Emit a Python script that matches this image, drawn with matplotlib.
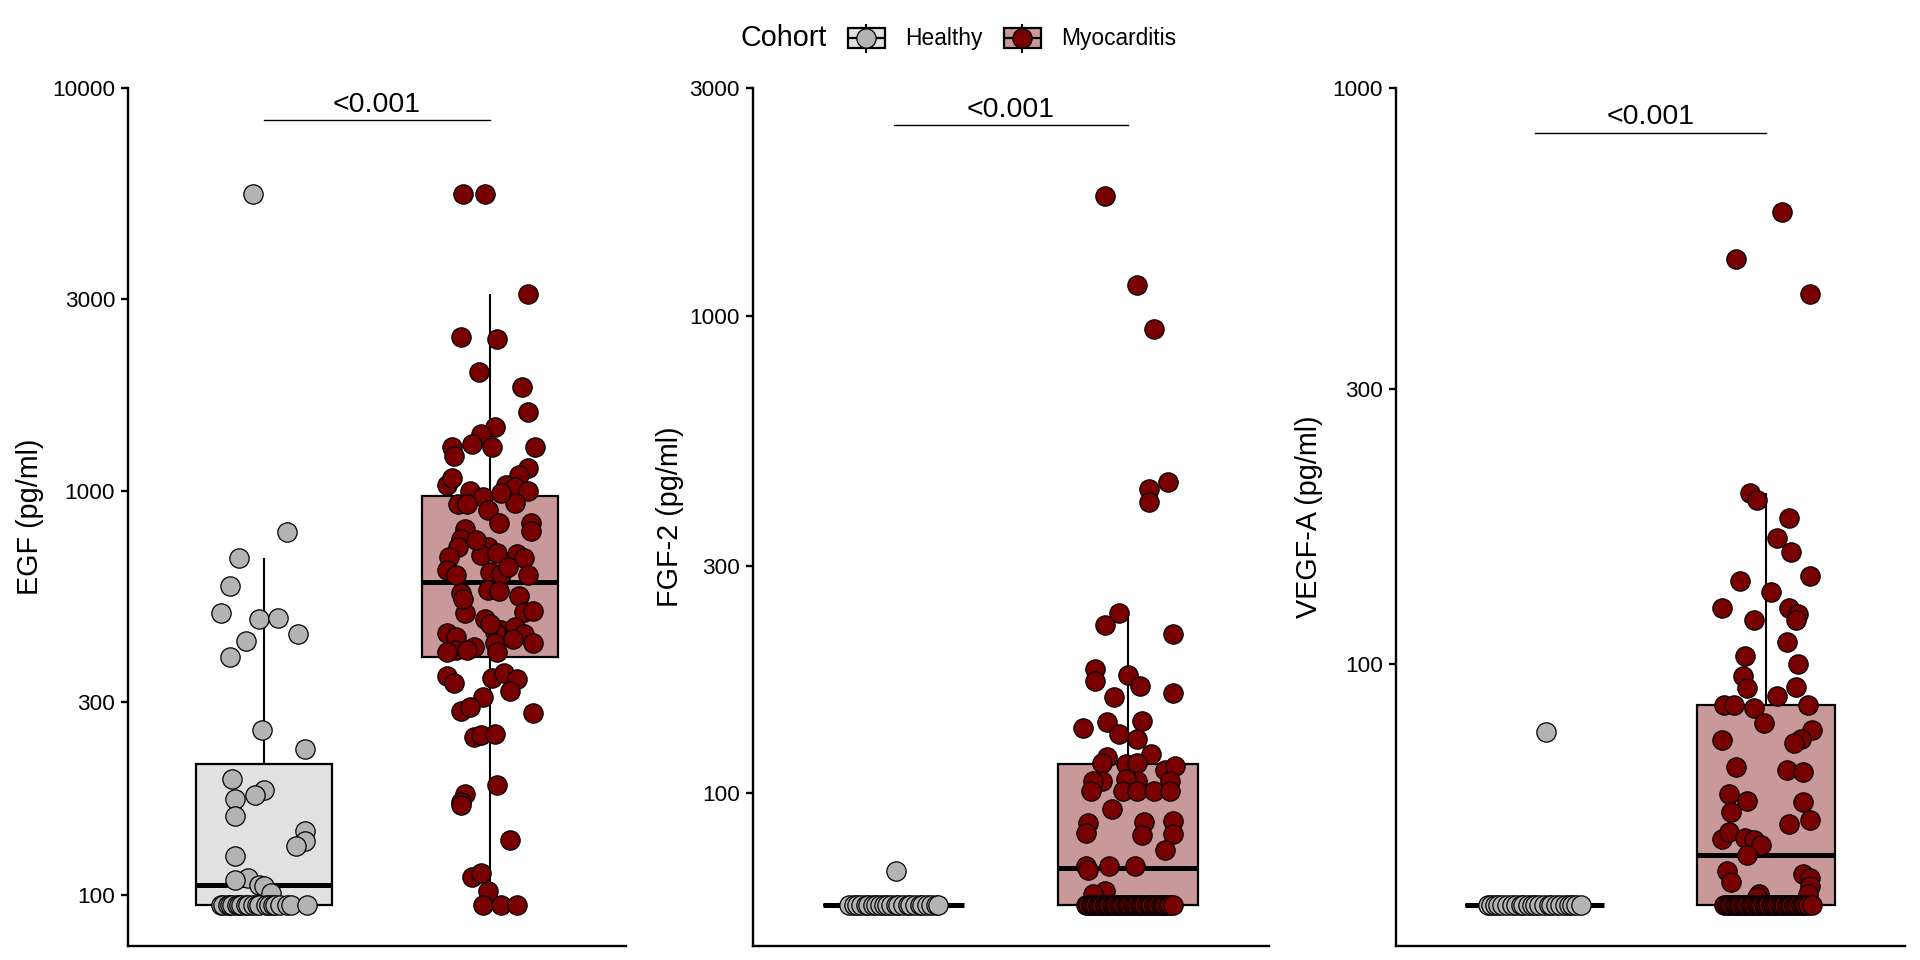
import matplotlib
matplotlib.use("Agg")
import numpy as np
import matplotlib.pyplot as plt
from matplotlib import cbook
from matplotlib.legend_handler import HandlerBase
from matplotlib.patches import Rectangle
from matplotlib.lines import Line2D
import matplotlib.ticker as mticker

plt.rcParams['font.family'] = ['Liberation Sans', 'DejaVu Sans']

# ---------------- data ----------------
cohorts = ['Healthy', 'Myocarditis']
point_colors = ['#B3B3B3', '#780000']
box_colors = ['#E1E1E1', '#C99999']
p_label = '<0.001'

# EGF
egf_lod = 94.4
egf_healthy = [5455, 795, 683, 584, 501, 484, 487, 443, 425, 389, 257, 230, 194,
               182, 177, 173, 157, 144, 136, 132, 125, 110, 109, 106, 105, 101]
egf_healthy_jit = [-0.05, 0.10, -0.11, -0.15, -0.19, -0.02, 0.06, 0.15, -0.08, -0.15,
                   -0.01, 0.18, -0.14, 0.00, -0.04, -0.13, -0.13, 0.18, 0.18, 0.14,
                   -0.13, -0.07, -0.13, -0.02, 0.00, 0.03]
egf_healthy_lod_jit = [-0.19, -0.18, -0.16, -0.15, -0.14, -0.12, -0.11, -0.10, -0.08, -0.07,
                       -0.05, -0.03, -0.02, 0.01, 0.02, 0.04, 0.05, 0.07, 0.10, 0.12, 0.19]
egf_myo = [5455, 5455, 3083, 2420, 2393, 1982, 1815, 1571, 1447, 1391, 1289, 1222, 1314,
           1286, 1286, 1143, 1100, 1039, 1077, 1039, 1023, 1000, 1004, 968, 931, 931, 901,
           936, 837, 834, 800, 806, 762, 730, 689, 728, 696, 703, 700, 683, 638, 621, 632,
           626, 621, 559, 570, 565, 551, 503, 506, 501, 484, 446, 436, 453, 449, 462, 443,
           420, 405, 412, 404, 420, 401, 400, 348, 335, 344, 354, 343, 320, 309, 285, 293,
           283, 246, 249, 250, 187, 178, 170, 167, 137, 111, 113, 102,
           990, 760, 650, 540, 470, 430]
egf_myo_jit = [-0.12, -0.02, 0.17, -0.13, 0.03, -0.05, 0.14, 0.17, 0.02, -0.04, -0.17, -0.16, -0.08,
               0.01, 0.20, 0.17, 0.13, -0.19, -0.17, 0.07, 0.11, 0.17, -0.09, -0.03, -0.14, -0.10, -0.01,
               0.11, 0.04, 0.18, 0.18, -0.11, -0.13, -0.14, -0.18, -0.01, -0.04, 0.03, 0.12, 0.15, -0.19, -0.15, 0.00,
               0.05, 0.17, -0.13, -0.01, 0.04, 0.13, 0.15, 0.19, -0.11, -0.02, -0.19, -0.15, 0.05, 0.02, 0.11, 0.15,
               0.19, -0.15, -0.07, -0.10, 0.02, 0.03, -0.19, -0.19, -0.16, 0.01, 0.06, 0.12, 0.09, -0.03, -0.13, -0.09,
               0.19, -0.07, -0.04, 0.02, 0.03, -0.11, -0.13, -0.13, 0.09, -0.08, -0.04, -0.01,
               0.05, -0.06, 0.08, -0.12, 0.00, 0.10]
egf_myo_lod_jit = [-0.03, 0.05, 0.12]

# FGF-2
fgf_lod = 58.5
fgf_healthy = [68.8]
fgf_healthy_jit = [0.01]
fgf_healthy_lod_jit = [-0.19, -0.17, -0.155, -0.14, -0.12, -0.11, -0.09, -0.075, -0.06, -0.04,
                       -0.03, -0.01, 0.01, 0.02, 0.04, 0.06, 0.07, 0.09, 0.11, 0.12, 0.14, 0.16,
                       0.18, 0.19]
fgf_myo = [1778, 1160, 937, 449, 433, 408, 239, 225, 216, 182, 172, 177, 168, 162, 159, 137,
           141, 142, 133, 130, 121, 119, 116, 115, 116, 112, 114, 106, 106, 106, 107, 106,
           101, 101, 101, 101, 101, 92.9, 86.5, 82.6, 87.1, 81.7, 87.5, 82.4, 76, 70.3, 69,
           70.3, 70.3, 62.4, 61.6]
fgf_myo_jit = [-0.10, 0.04, 0.11, 0.17, 0.09, 0.09, -0.04, -0.10, 0.19, -0.14, -0.14, 0.00, 0.05,
               0.19, -0.06, -0.19, -0.09, 0.06, -0.04, 0.04, 0.10, -0.09, -0.11, -0.01, 0.04, 0.16,
               0.20, -0.11, -0.15, 0.04, -0.01, 0.18, -0.16, -0.02, 0.04, 0.11, 0.18, -0.07, -0.17,
               -0.18, 0.07, 0.06, 0.19, 0.19, 0.16, -0.18, -0.17, -0.08, 0.03, -0.10, -0.15]
fgf_myo_lod_jit = [-0.18, -0.17, -0.16, -0.15, -0.15, -0.14, -0.13, -0.12, -0.11, -0.10,
                   -0.10, -0.09, -0.08, -0.07, -0.06, -0.05, -0.05, -0.04, -0.03, -0.02,
                   -0.01, 0.00, 0.00, 0.01, 0.02, 0.03, 0.04, 0.05, 0.05, 0.06,
                   0.07, 0.08, 0.09, 0.10, 0.10, 0.11, 0.12, 0.13, 0.14, 0.15,
                   0.15, 0.16, 0.17, 0.18, 0.19]

# VEGF-A
vegf_lod = 38.1
vegf_healthy = [76]
vegf_healthy_jit = [0.05]
vegf_healthy_lod_jit = [-0.20, -0.19, -0.17, -0.16, -0.14, -0.12, -0.10, -0.08, -0.06, -0.05,
                        -0.03, -0.01, 0.00, 0.02, 0.04, 0.06, 0.07, 0.09, 0.11, 0.13, 0.15,
                        0.16, 0.18, 0.20]
vegf_myo = [608, 504, 439, 198, 192, 179, 165, 156, 142, 139, 133, 125, 125, 122, 119, 119,
            109, 103, 100, 95.3, 90.7, 90.9, 87.7, 84.8, 84.8, 83.7, 84.8, 78.8, 73.5, 76.7,
            74, 72.9, 66.2, 65.2, 64.7, 59.3, 57.7, 55.3, 57.4, 53.5, 52.6, 49.5, 50.9, 49.7,
            49.3, 48.4, 46.5, 43.6, 41.8, 43, 42.4, 41, 39.8, 39.8, 39.3]
vegf_myo_jit = [0.07, -0.13, 0.19, -0.07, -0.04, 0.10, 0.05, 0.11, 0.19, -0.11, 0.02, -0.19, 0.10,
                0.14, 0.13, -0.05, 0.09, -0.09, 0.14, -0.10, -0.08, 0.13, 0.05, -0.18, -0.14, -0.05,
                0.18, -0.01, -0.19, 0.20, 0.15, 0.12, -0.13, 0.09, 0.16, -0.16, -0.08, -0.15, 0.16,
                0.19, 0.10, -0.19, -0.16, -0.09, -0.05, -0.02, -0.08, -0.17, -0.15, 0.16, 0.19, 0.19,
                0.18, -0.03, -0.04]
vegf_myo_lod_jit = [-0.18, -0.17, -0.16, -0.15, -0.14, -0.13, -0.12, -0.11, -0.10, -0.09,
                    -0.08, -0.07, -0.06, -0.05, -0.04, -0.03, -0.02, -0.01, 0.00, 0.01,
                    0.02, 0.03, 0.04, 0.05, 0.06, 0.07, 0.08, 0.09, 0.10, 0.11,
                    0.12, 0.13, 0.14, 0.15, 0.16, 0.17, 0.18, 0.20]

panels = [
    dict(ylabel='EGF (pg/ml)', ylim=(74.7, 10000), ticks=[100, 300, 1000, 3000, 10000],
         p_y=8309, lod=egf_lod,
         groups=[(egf_healthy, egf_healthy_jit, egf_healthy_lod_jit),
                 (egf_myo, egf_myo_jit, egf_myo_lod_jit)],
         rect=[0.06688, 0.01458, 0.25896, 0.89375], label_x=-0.198),
    dict(ylabel='FGF-2 (pg/ml)', ylim=(47.9, 3000), ticks=[100, 300, 1000, 3000],
         p_y=2510, lod=fgf_lod,
         groups=[(fgf_healthy, fgf_healthy_jit, fgf_healthy_lod_jit),
                 (fgf_myo, fgf_myo_jit, fgf_myo_lod_jit)],
         rect=[0.3923, 0.01458, 0.2684, 0.89375], label_x=-0.161),
    dict(ylabel='VEGF-A (pg/ml)', ylim=(32.3, 1000), ticks=[100, 300, 1000],
         p_y=836, lod=vegf_lod,
         groups=[(vegf_healthy, vegf_healthy_jit, vegf_healthy_lod_jit),
                 (vegf_myo, vegf_myo_jit, vegf_myo_lod_jit)],
         rect=[0.72708, 0.01458, 0.26490, 0.89375], label_x=-0.171),
]

TICK_FS = 16.2
TITLE_FS = 20.7
P_FS = 20.5
LEG_FS = 16.4
MS = 13.9  # marker diameter in points

fig = plt.figure(figsize=(19.2, 9.6), dpi=100)

for p in panels:
    ax = fig.add_axes(p['rect'])
    ax.set_yscale('log')
    positions = [1, 2]
    stats = []
    xs_all, ys_all = [], []
    for gi, (vals, jit, lod_jit) in enumerate(p['groups']):
        values = np.array(list(vals) + [p['lod']] * len(lod_jit), dtype=float)
        offsets = np.array(list(jit) + list(lod_jit), dtype=float)
        st = cbook.boxplot_stats(np.log10(values), whis=1.5)[0]
        for k in ['med', 'q1', 'q3', 'whislo', 'whishi', 'mean', 'cilo', 'cihi']:
            st[k] = 10 ** st[k]
        st['fliers'] = np.array([])
        stats.append(st)
        xs_all.append(positions[gi] + offsets)
        ys_all.append(values)
    bp = ax.bxp(stats, positions=positions, widths=0.6, patch_artist=True,
                showfliers=False, showcaps=False,
                boxprops=dict(linewidth=1.6, edgecolor='black'),
                medianprops=dict(color='black', linewidth=3.6, solid_capstyle='butt'),
                whiskerprops=dict(color='black', linewidth=1.5, solid_capstyle='butt'),
                zorder=2)
    for patch, fc in zip(bp['boxes'], box_colors):
        patch.set_facecolor(fc)
    for gi in range(2):
        ax.scatter(xs_all[gi], ys_all[gi], s=MS ** 2, c=point_colors[gi],
                   edgecolors='black', linewidths=0.9, zorder=3)

    # p-value bracket
    ax.plot([1, 2], [p['p_y'], p['p_y']], color='black', linewidth=1.0, zorder=4)
    ax.annotate(p_label, xy=(1.5, p['p_y']), xytext=(0, 6), textcoords='offset points',
                ha='center', va='baseline', fontsize=P_FS, color='black')

    ax.set_xlim(0.4, 2.6)
    ax.set_ylim(*p['ylim'])
    ax.yaxis.set_major_locator(mticker.FixedLocator(p['ticks']))
    ax.yaxis.set_major_formatter(mticker.FixedFormatter([str(t) for t in p['ticks']]))
    ax.yaxis.set_minor_locator(mticker.NullLocator())
    ax.set_xticks([])
    for s in ['top', 'right']:
        ax.spines[s].set_visible(False)
    for s in ['left', 'bottom']:
        ax.spines[s].set_linewidth(1.7)
        ax.spines[s].set_color('black')
    ax.tick_params(axis='y', length=4.7, width=1.7, color='black', pad=4.8,
                   labelsize=TICK_FS, labelcolor='black')
    ax.set_ylabel(p['ylabel'], fontsize=TITLE_FS, color='black')
    ax.yaxis.set_label_coords(p['label_x'], 0.5)
    ax.yaxis.label.set_verticalalignment('center')
    ax.set_facecolor('white')


# ---------------- legend ----------------
class BoxKey(HandlerBase):
    def __init__(self, fill, pt):
        super().__init__()
        self.fill = fill
        self.pt = pt

    def create_artists(self, legend, orig_handle, xdescent, ydescent, width, height,
                       fontsize, trans):
        x0, y0 = -xdescent, -ydescent
        cx, cy = x0 + width / 2, y0 + height / 2
        rect = Rectangle((x0, y0 + 0.14 * height), width, 0.72 * height,
                         facecolor=self.fill, edgecolor='black', linewidth=1.6,
                         transform=trans)
        vline = Line2D([cx, cx], [y0, y0 + height], color='black', linewidth=1.5,
                       transform=trans, solid_capstyle='butt')
        hline = Line2D([x0, x0 + width], [cy, cy], color='black', linewidth=1.6,
                       transform=trans, solid_capstyle='butt')
        dot = Line2D([cx], [cy], marker='o', markersize=MS, markerfacecolor=self.pt,
                     markeredgecolor='black', markeredgewidth=0.9, linestyle='none',
                     transform=trans)
        return [rect, vline, hline, dot]


handles = [Rectangle((0, 0), 1, 1, label=c) for c in cohorts]
handler_map = {handles[i]: BoxKey(box_colors[i], point_colors[i]) for i in range(2)}
fig.text(740 / 1920, 0.9604, 'Cohort', fontsize=TITLE_FS, ha='left', va='center')
fig.legend(handles=handles, labels=cohorts, handler_map=handler_map,
           loc='center left', bbox_to_anchor=(847.7 / 1920, 0.9604), ncol=2,
           frameon=False, fontsize=LEG_FS, borderpad=0, borderaxespad=0,
           handlelength=1.62, handleheight=1.58, handletextpad=0.91, columnspacing=0.92)

fig.savefig('out.png', dpi=100, facecolor='white')
